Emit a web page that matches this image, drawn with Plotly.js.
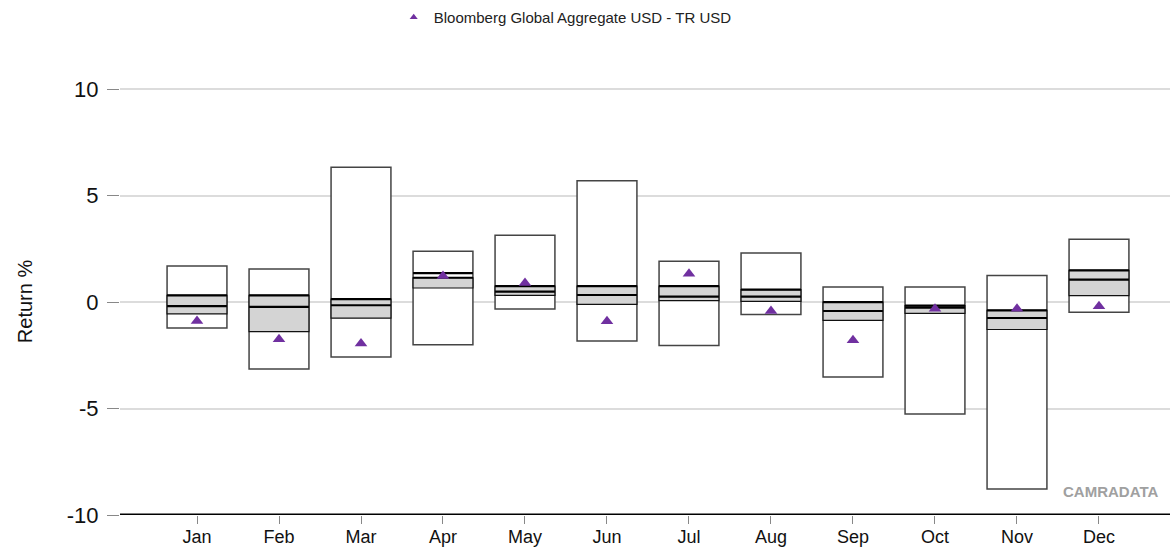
<!DOCTYPE html>
<html>
<head>
<meta charset="utf-8">
<script src="https://cdn.plot.ly/plotly-3.0.1.min.js"></script>
<style>
  html, body { margin: 0; padding: 0; background: #fff; }
  #chart { width: 1170px; height: 554px; }
</style>
</head>
<body>
<div id="chart"></div>
<script>
const months = ['Jan','Feb','Mar','Apr','May','Jun','Jul','Aug','Sep','Oct','Nov','Dec'];

// peer group range (top / bottom of white box)
const rangeHigh = [1.69, 1.55, 6.33, 2.39, 3.14, 5.69, 1.92, 2.30, 0.70, 0.70, 1.25, 2.95];
const rangeLow  = [-1.22, -3.14, -2.58, -2.00, -0.33, -1.83, -2.04, -0.59, -3.52, -5.26, -8.78, -0.48];

// grey band
const bandTop    = [0.31, 0.31, 0.14, 1.14, 0.75, 0.75, 0.75, 0.58, 0.00, -0.17, -0.39, 1.49];
const bandBottom = [-0.56, -1.39, -0.76, 0.66, 0.31, -0.11, 0.07, 0.03, -0.86, -0.53, -1.29, 0.30];

// thick lines
const upperLine = [0.31, 0.31, 0.14, 1.36, 0.75, 0.75, 0.75, 0.58, 0.00, -0.17, -0.39, 1.49];
const medianLine = [-0.19, -0.23, -0.15, 1.14, 0.49, 0.33, 0.25, 0.25, -0.42, -0.26, -0.75, 1.05];

// benchmark
const benchName = 'Bloomberg Global Aggregate USD - TR USD';
const bench = [-0.89, -1.75, -1.95, 1.22, 0.89, -0.90, 1.33, -0.42, -1.80, -0.31, -0.31, -0.20];

const idx = months.map((m, i) => i);
const boxW = 0.73;

function hLines(vals) {
  const xs = [], ys = [];
  vals.forEach((v, i) => { xs.push(i - boxW / 2, i + boxW / 2, null); ys.push(v, v, null); });
  return { xs, ys };
}
const up = hLines(upperLine);
const med = hLines(medianLine);

const traces = [
  { type: 'bar', x: idx, base: rangeLow, y: rangeHigh.map((h, i) => h - rangeLow[i]), width: boxW,
    marker: { color: '#ffffff', line: { color: '#444', width: 1.5 } }, showlegend: false, hoverinfo: 'skip' },
  { type: 'bar', x: idx, base: bandBottom, y: bandTop.map((h, i) => h - bandBottom[i]), width: boxW,
    marker: { color: '#d4d4d4', line: { color: '#111', width: 1.2 } }, showlegend: false, hoverinfo: 'skip' },
  { type: 'scatter', mode: 'lines', x: up.xs, y: up.ys, line: { color: '#000', width: 2.2 }, showlegend: false, hoverinfo: 'skip' },
  { type: 'scatter', mode: 'lines', x: med.xs, y: med.ys, line: { color: '#000', width: 2.2 }, showlegend: false, hoverinfo: 'skip' },
  { type: 'scatter', mode: 'markers', x: idx, y: bench, name: benchName, showlegend: false,
    marker: { symbol: 'triangle-up', size: 11, color: '#7030a0' } },
  // legend entry with smaller symbol
  { type: 'scatter', mode: 'markers', x: [null], y: [null], name: benchName,
    marker: { symbol: 'triangle-up', size: 7, color: '#7030a0' } }
];

const layout = {
  width: 1170, height: 554,
  margin: { l: 120, r: 0, t: 88, b: 39 },
  paper_bgcolor: '#fff', plot_bgcolor: '#fff',
  font: { family: 'Liberation Sans, Arial, sans-serif', color: '#111' },
  barmode: 'overlay',
  showlegend: true,
  legend: { orientation: 'h', x: 0.424, xanchor: 'center', y: 1.165, yanchor: 'middle',
            font: { size: 15, color: '#222' }, bgcolor: 'rgba(0,0,0,0)' },
  xaxis: {
    range: [-0.939, 11.866], tickvals: idx, ticktext: months,
    showgrid: false, zeroline: false, showline: false,
    ticks: 'outside', ticklen: 8, tickcolor: '#888', tickwidth: 1, ticklabelstandoff: -3,
    tickfont: { size: 18, color: '#111' }
  },
  yaxis: {
    range: [-10, 10.05], tickvals: [-10, -5, 0, 5, 10], ticktext: ['-10', '-5', '0', '5', '10'],
    showgrid: true, gridcolor: '#dcdcdc', gridwidth: 2, zeroline: false,
    ticks: 'outside', ticklen: 12, tickcolor: '#888', tickwidth: 1, ticklabelstandoff: 4,
    tickfont: { size: 22, color: '#111' },
    title: { text: 'Return %', font: { size: 20, color: '#111' }, standoff: 28 }
  },
  shapes: [
    { type: 'line', xref: 'paper', yref: 'y', x0: 0, x1: 1, y0: -10, y1: -10, line: { color: '#000', width: 3 } }
  ],
  annotations: [
    { xref: 'paper', yref: 'paper', x: 0.99, y: 0.055, xanchor: 'right', yanchor: 'middle', showarrow: false,
      text: '<b>CAMRADATA</b>', font: { size: 15, color: '#a0a0a0' } }
  ]
};

Plotly.newPlot('chart', traces, layout, { displayModeBar: false, responsive: false });
</script>
</body>
</html>
